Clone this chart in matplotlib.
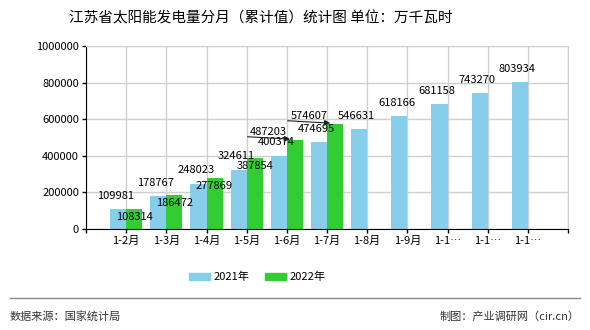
import numpy as np
import matplotlib
matplotlib.use("Agg")
import matplotlib.pyplot as plt
from matplotlib.lines import Line2D

plt.rcParams['font.family'] = ['Noto Sans CJK SC', 'DejaVu Sans']

months = ['1-2月', '1-3月', '1-4月', '1-5月', '1-6月', '1-7月',
          '1-8月', '1-9月', '1-10月', '1-11月', '1-12月']
v2021 = [109981, 178767, 248023, 324611, 400374, 474695,
         546631, 618166, 681158, 743270, 803934]
v2022 = [108314, 186472, 277869, 387854, 487203, 574607]

c2021 = '#87ceeb'
c2022 = '#32cd32'

fig = plt.figure(figsize=(5.9, 3.3), dpi=100)
ax = fig.add_axes([0.1458, 0.306, 0.8169, 0.5546])

x = np.arange(1, len(months) + 1)
w = 0.4
ax.bar(x[:len(v2021)] - w / 2, v2021, w, color=c2021, zorder=2)
ax.bar(x[:len(v2022)] + w / 2, v2022, w, color=c2022, zorder=2)

ax.set_xlim(0, 12)
ax.set_ylim(0, 1000000)
ax.set_yticks(np.arange(0, 1000001, 200000))
ax.set_yticklabels([str(v) for v in range(0, 1000001, 200000)], fontsize=8)
ax.set_xticks(np.arange(0, 13))
ticklabels = [''] + [m if len(m) <= 4 else m[:3] + '…' for m in months] + ['']
ax.set_xticklabels(ticklabels, fontsize=8)
ax.tick_params(axis='both', length=3, width=1, pad=2)
ax.grid(True, color='#d0d0d0', linewidth=1, zorder=0)
for s in ['top', 'right']:
    ax.spines[s].set_color('#d0d0d0')
for s in ['left', 'bottom']:
    ax.spines[s].set_color('black')

# value labels
for xi, v in zip(x, v2021):
    ax.annotate(str(v), (xi - w / 2, v), xytext=(-2, 6), textcoords='offset points',
                ha='center', va='bottom', fontsize=8, zorder=4)
for i, (xi, v) in enumerate(zip(x, v2022)):
    if i < 4:
        ax.annotate(str(v), (xi + w / 2, v), xytext=(0, -2), textcoords='offset points',
                    ha='center', va='top', fontsize=8, zorder=4)
    else:
        # labels moved left of the bar with an underline pointing at its top
        ax.text(xi - 0.45, v + 17000, str(v), ha='center', va='bottom',
                fontsize=8, zorder=4)
        ax.annotate('', (xi + 0.08, v + 4000), xytext=(xi - 0.98, v + 17000),
                    arrowprops=dict(arrowstyle='-|>', color='#222222', lw=0.8,
                                    mutation_scale=8, shrinkA=0, shrinkB=0),
                    zorder=4)

handles = [plt.Rectangle((0, 0), 1, 1, color=c2021),
           plt.Rectangle((0, 0), 1, 1, color=c2022)]
fig.legend(handles, ['2021年', '2022年'], loc='center', bbox_to_anchor=(0.436, 0.16),
           ncol=2, frameon=False, fontsize=8, handlelength=1.9, handleheight=0.7,
           columnspacing=1.4, handletextpad=0.3)

fig.text(0.442, 0.945, '江苏省太阳能发电量分月（累计值）统计图 单位：万千瓦时',
         ha='center', va='center', fontsize=10.5)
fig.add_artist(Line2D([0.017, 0.983], [0.097, 0.097], color='#888888', lw=1))
fig.text(0.017, 0.04, '数据来源：国家统计局', ha='left', va='center', fontsize=8, color='#333333')
fig.text(0.983, 0.04, '制图：产业调研网（cir.cn）', ha='right', va='center', fontsize=8, color='#333333')

fig.savefig('out.png', dpi=100)
